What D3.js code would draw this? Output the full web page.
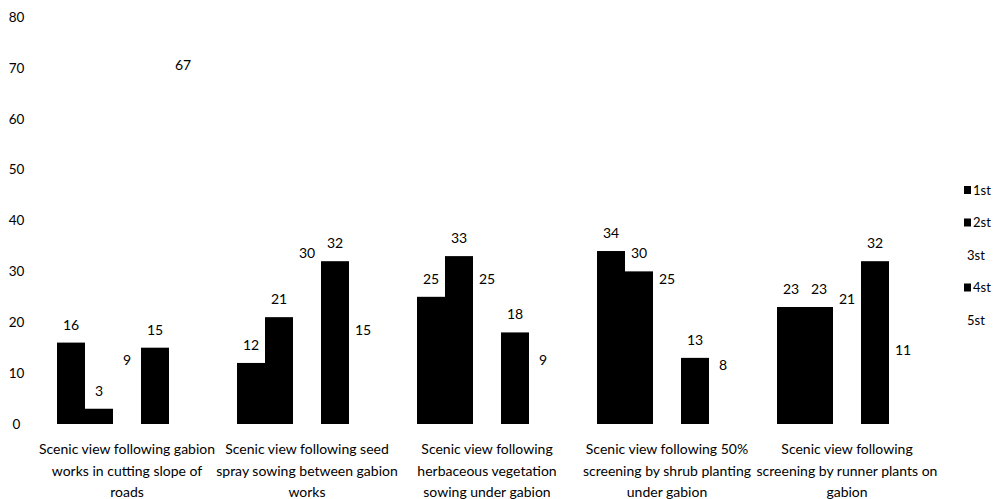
<!DOCTYPE html>
<html>
<head>
<meta charset="utf-8">
<script src="https://cdn.jsdelivr.net/npm/d3@7"></script>
<style>
  html, body { margin: 0; padding: 0; background: #fff; }
  svg { display: block; }
  text { font-family: Lato, "Liberation Sans", sans-serif; fill: #000; }
</style>
</head>
<body>
<svg id="chart" width="995" height="499"></svg>
<script>
// Scenic view types (x categories), each split over multiple text lines
const categories = [
  "Scenic view following gabion works in cutting slope of roads",
  "Scenic view following seed spray sowing between gabion works",
  "Scenic view following herbaceous vegetation sowing under gabion",
  "Scenic view following 50% screening by shrub planting under gabion",
  "Scenic view following screening by runner plants on gabion"
];
const categoryLines = [
  ["Scenic view following gabion", "works in cutting slope of", "roads"],
  ["Scenic view following seed", "spray sowing between gabion", "works"],
  ["Scenic view following", "herbaceous vegetation", "sowing under gabion"],
  ["Scenic view following 50%", "screening by shrub planting", "under gabion"],
  ["Scenic view following", "screening by runner plants on", "gabion"]
];

// Ranking series
const seriesNames = ["1st", "2st", "3st", "4st", "5st"];
const seriesColors = ["#000000", "#000000", "#ffffff", "#000000", "#ffffff"];

// Values per series, one entry per category
const s1st = [16, 12, 25, 34, 23];
const s2st = [3, 21, 33, 30, 23];
const s3st = [9, 30, 25, 25, 21];
const s4st = [15, 32, 18, 13, 32];
const s5st = [67, 15, 9, 8, 11];
const seriesValues = [s1st, s2st, s3st, s4st, s5st];

const yTicks = [0, 10, 20, 30, 40, 50, 60, 70, 80];

const svg = d3.select("#chart");

const x0 = d3.scaleBand()
  .domain(categories)
  .range([37, 937])
  .paddingInner(40 / 180)
  .paddingOuter(20 / 180);

const x1 = d3.scaleBand()
  .domain(seriesNames)
  .range([0, x0.bandwidth()])
  .padding(0);

const y = d3.scaleLinear()
  .domain([0, 80])
  .range([424, 17]);

// Y axis: tick labels only, no line
const yAxis = svg.append("g")
  .attr("transform", "translate(16.5,0)")
  .call(d3.axisLeft(y).tickValues(yTicks).tickSize(0).tickPadding(0));
yAxis.attr("font-family", null).attr("font-size", null);
yAxis.select(".domain").remove();
yAxis.selectAll("text")
  .attr("text-anchor", "middle")
  .attr("x", 0)
  .style("font-size", "13.5px");

// Flatten into bar records
const bars = [];
categories.forEach((c, ci) => {
  seriesNames.forEach((s, si) => {
    bars.push({ cat: c, series: s, si, value: seriesValues[si][ci] });
  });
});

svg.append("g").attr("class", "bars")
  .selectAll("rect")
  .data(bars)
  .join("rect")
  .attr("x", d => x0(d.cat) + x1(d.series))
  .attr("y", d => y(d.value))
  .attr("width", x1.bandwidth())
  .attr("height", d => y(0) - y(d.value))
  .attr("fill", d => seriesColors[d.si]);

// Value labels above each bar
svg.append("g").attr("class", "labels")
  .selectAll("text")
  .data(bars)
  .join("text")
  .attr("x", d => x0(d.cat) + x1(d.series) + x1.bandwidth() / 2)
  .attr("y", d => y(d.value) - 13)
  .attr("text-anchor", "middle")
  .style("font-size", "14px")
  .text(d => d.value);

// Category labels (wrapped)
const catG = svg.append("g").attr("class", "categories");
categories.forEach((c, ci) => {
  const cx = x0(c) + x0.bandwidth() / 2;
  const t = catG.append("text")
    .attr("text-anchor", "middle")
    .style("font-size", "14px");
  categoryLines[ci].forEach((line, li) => {
    t.append("tspan")
      .attr("x", cx)
      .attr("y", 454 + li * 21.5)
      .text(line);
  });
});

// Legend
const legend = svg.append("g").attr("class", "legend");
seriesNames.forEach((s, i) => {
  const cy = 190 + i * 32.5;
  const visible = seriesColors[i] !== "#ffffff";
  legend.append("rect")
    .attr("x", 964)
    .attr("y", cy - 4)
    .attr("width", 7)
    .attr("height", 8)
    .attr("fill", seriesColors[i]);
  legend.append("text")
    .attr("x", visible ? 973 : 967)
    .attr("y", cy)
    .attr("dy", "0.35em")
    .style("font-size", "13px")
    .text(s);
});
</script>
</body>
</html>
